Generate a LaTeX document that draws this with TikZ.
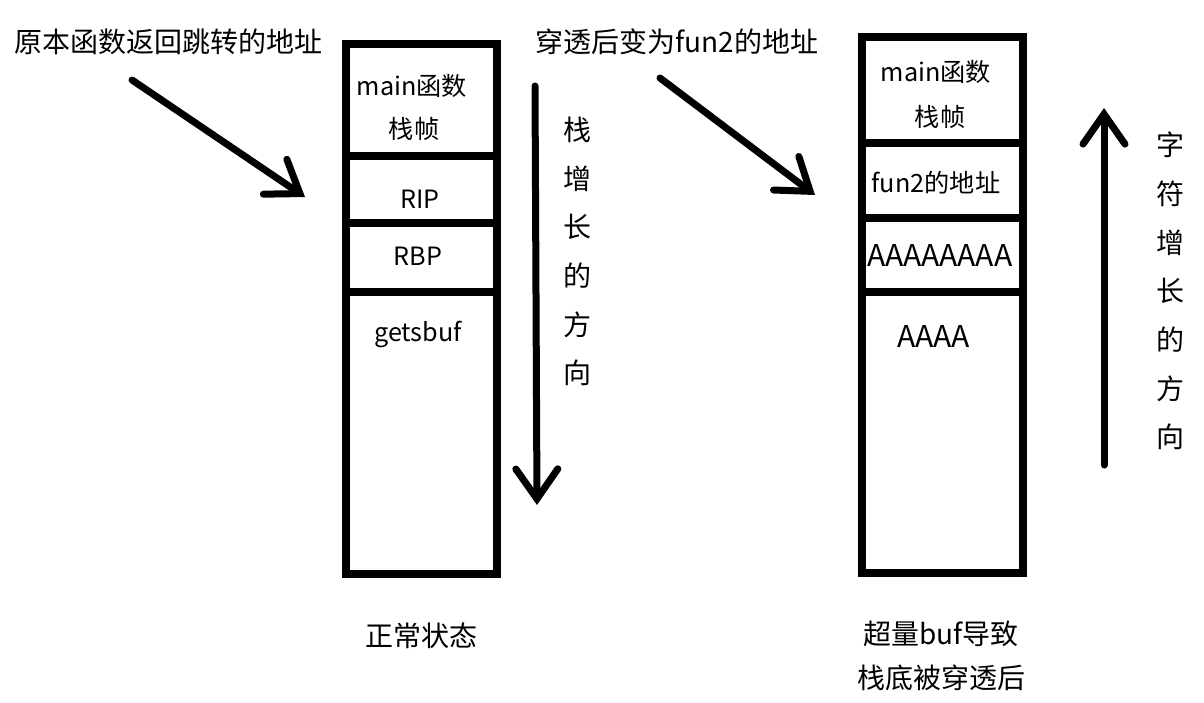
\documentclass[tikz,border=0pt]{standalone}
\usepackage{fontspec}
\setmainfont{Noto Sans CJK SC}
\usetikzlibrary{arrows.meta}

\begin{document}
\begin{tikzpicture}[x=0.5pt,y=-0.5pt,
  stackbox/.style={line width=4pt},
  label/.style={inner sep=0pt,font=\fontsize{14pt}{16pt}\selectfont},
  cell/.style={inner sep=0pt,font=\fontsize{12.6pt}{15pt}\selectfont},
  widecell/.style={inner sep=0pt,font=\fontsize{15pt}{17pt}\selectfont},
  pointer/.style={line width=3.5pt,line cap=round,-{Straight Barb[length=15pt,width=21pt,line cap=round]}}]
	\useasboundingbox (0,0) rectangle (1204,702);

	\draw [stackbox] (346,44) rectangle (497,574);
	\draw [stackbox] (346,156) -- (499,156);
	\draw [stackbox] (346,223) -- (501,223);
	\draw [stackbox] (346,292) -- (501,292);

	\draw [stackbox] (862,37) rectangle (1023,573);
	\draw [stackbox] (862,143) -- (1025,143);
	\draw [stackbox] (862,218) -- (1023,218);
	\draw [stackbox] (862,292) -- (1023,292);

	\node [label] (oldaddr) at (168,42) {原本函数返回跳转的地址};
	\node [label] (newaddr) at (677,42) {穿透后变为fun2的地址};

	\node [cell] (lmain) at (412,86) {main函数};
	\node [cell] (lframe) at (414,129) {栈帧};
	\node [cell] (rip) at (420,199) {RIP};
	\node [cell] (rbp) at (418,256) {RBP};
	\node [cell] (buf) at (418,334) {getsbuf};

	\node [cell] (rmain) at (936,72) {main函数};
	\node [cell] (rframe) at (940,117) {栈帧};
	\node [cell] (fun) at (936,183) {fun2的地址};
	\node [widecell] (fill) at (940,255) {AAAAAAAA};
	\node [widecell] (fillb) at (934,336) {AAAA};

	\node [label] (normal) at (421,636) {正常状态};
	\node [label] (over) at (941,634) {超量buf导致};
	\node [label] (pierced) at (941,678) {栈底被穿透后};

	\foreach \ch [count=\i from 0] in {栈,增,长,的,方,向}
		\node [label] (down\i) at (577,130+48.6*\i) {\ch};
	\foreach \ch [count=\i from 0] in {字,符,增,长,的,方,向}
		\node [label] (up\i) at (1170,145+48.7*\i) {\ch};

	\coordinate (lfrom) at (132,80);
	\coordinate (lto) at (305,197);
	\coordinate (rfrom) at (660,78);
	\coordinate (rto) at (815,195);
	\coordinate (dfrom) at (535,86);
	\coordinate (dto) at (537,505);
	\coordinate (ufrom) at (1104,465);
	\coordinate (uto) at (1104,108);

	\draw [pointer] (lfrom) -- (lto);
	\draw [pointer] (rfrom) -- (rto);
	\draw [pointer] (dfrom) -- (dto);
	\draw [pointer] (ufrom) -- (uto);
\end{tikzpicture}
\end{document}
